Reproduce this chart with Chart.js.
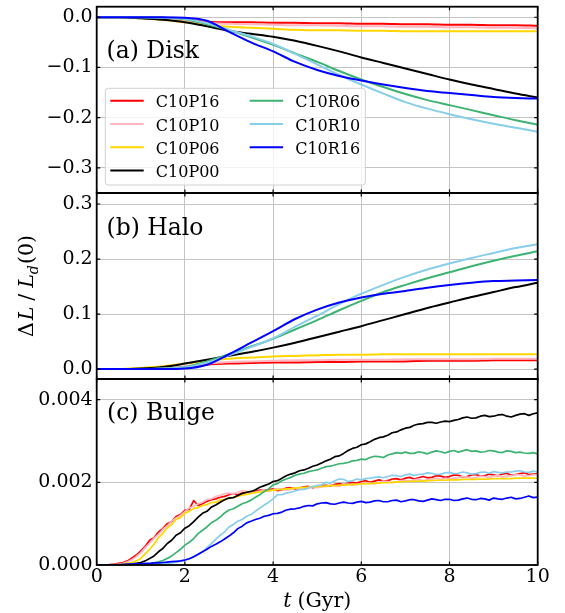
<!DOCTYPE html>
<html>
<head>
<meta charset="utf-8">
<script src="https://cdn.jsdelivr.net/npm/chart.js@4.4.1/dist/chart.umd.min.js"></script>
<style>
  html, body { margin: 0; padding: 0; background: #ffffff; }
  #wrap { position: relative; width: 565px; height: 613px; }
  #wrap canvas { position: absolute; left: 0; top: 0; }
</style>
</head>
<body>
<div id="wrap">
  <canvas id="disk" width="565" height="613"></canvas>
  <canvas id="halo" width="565" height="613"></canvas>
  <canvas id="bulge" width="565" height="613"></canvas>
</div>
<script>
// ---- run names ----
const runNames = ['C10P16', 'C10P10', 'C10P06', 'C10P00', 'C10R06', 'C10R10', 'C10R16'];

// ---- time samples (Gyr) ----
const tSmooth = [0, 0.5, 1, 1.5, 2, 2.5, 3, 3.5, 4, 4.5, 5, 5.5, 6, 6.5, 7, 7.5, 8, 8.5, 9, 9.5, 10];
const tBulge = [
  0, 0.1, 0.2, 0.3, 0.4, 0.5, 0.6, 0.7, 0.8, 0.9,
  1, 1.1, 1.2, 1.3, 1.4, 1.5, 1.6, 1.7, 1.8, 1.9,
  2, 2.1, 2.2, 2.3, 2.4, 2.5, 2.6, 2.7, 2.8, 2.9,
  3, 3.1, 3.2, 3.3, 3.4, 3.5, 3.6, 3.7, 3.8, 3.9,
  4, 4.1, 4.2, 4.3, 4.4, 4.5, 4.6, 4.7, 4.8, 4.9,
  5, 5.1, 5.2, 5.3, 5.4, 5.5, 5.6, 5.7, 5.8, 5.9,
  6, 6.1, 6.2, 6.3, 6.4, 6.5, 6.6, 6.7, 6.8, 6.9,
  7, 7.1, 7.2, 7.3, 7.4, 7.5, 7.6, 7.7, 7.8, 7.9,
  8, 8.1, 8.2, 8.3, 8.4, 8.5, 8.6, 8.7, 8.8, 8.9,
  9, 9.1, 9.2, 9.3, 9.4, 9.5, 9.6, 9.7, 9.8, 9.9,
  10];

// ---- (a) disk: Delta L / L_d(0) ----
const diskP16 = [0, 0, 0, -0.001, -0.005, -0.009, -0.010, -0.010, -0.011, -0.011, -0.012, -0.012, -0.013, -0.013, -0.014, -0.014, -0.015, -0.015, -0.016, -0.016, -0.017];
const diskP10 = [0, 0, 0, -0.001, -0.006, -0.011, -0.013, -0.014, -0.015, -0.016, -0.016, -0.017, -0.018, -0.018, -0.019, -0.019, -0.020, -0.020, -0.021, -0.021, -0.022];
const diskP06 = [0, 0, -0.002, -0.005, -0.010, -0.015, -0.019, -0.021, -0.023, -0.025, -0.026, -0.026, -0.027, -0.027, -0.028, -0.028, -0.028, -0.028, -0.028, -0.028, -0.028];
const diskP00 = [0, 0, -0.002, -0.005, -0.010, -0.018, -0.027, -0.033, -0.039, -0.047, -0.057, -0.068, -0.080, -0.091, -0.102, -0.113, -0.124, -0.134, -0.143, -0.152, -0.160];
const diskR06 = [0, 0, 0, -0.001, -0.004, -0.014, -0.026, -0.040, -0.055, -0.072, -0.089, -0.107, -0.124, -0.139, -0.153, -0.165, -0.175, -0.185, -0.195, -0.205, -0.214];
const diskR10 = [0, 0, 0, -0.001, -0.003, -0.012, -0.025, -0.038, -0.053, -0.073, -0.094, -0.115, -0.134, -0.152, -0.169, -0.182, -0.193, -0.203, -0.212, -0.220, -0.228];
const diskR16 = [0, 0, 0, 0, -0.001, -0.007, -0.029, -0.050, -0.068, -0.089, -0.105, -0.117, -0.126, -0.134, -0.141, -0.147, -0.151, -0.155, -0.159, -0.161, -0.162];

// ---- (b) halo ----
const haloP16 = [0, 0, 0, 0.001, 0.004, 0.008, 0.010, 0.011, 0.012, 0.012, 0.013, 0.013, 0.014, 0.014, 0.014, 0.015, 0.015, 0.015, 0.016, 0.016, 0.016];
const haloP10 = [0, 0, 0, 0.001, 0.005, 0.010, 0.013, 0.014, 0.015, 0.016, 0.016, 0.017, 0.017, 0.017, 0.018, 0.018, 0.018, 0.018, 0.019, 0.019, 0.019];
const haloP06 = [0, 0, 0.002, 0.005, 0.010, 0.015, 0.019, 0.021, 0.023, 0.024, 0.025, 0.026, 0.026, 0.027, 0.027, 0.027, 0.027, 0.027, 0.027, 0.027, 0.027];
const haloP00 = [0, 0, 0.001, 0.004, 0.010, 0.017, 0.024, 0.031, 0.039, 0.048, 0.058, 0.068, 0.078, 0.089, 0.100, 0.111, 0.121, 0.131, 0.140, 0.149, 0.157];
const haloR06 = [0, 0, 0, 0.001, 0.004, 0.014, 0.027, 0.041, 0.055, 0.072, 0.089, 0.107, 0.124, 0.140, 0.153, 0.165, 0.176, 0.187, 0.197, 0.206, 0.214];
const haloR10 = [0, 0, 0, 0.001, 0.003, 0.012, 0.025, 0.040, 0.056, 0.077, 0.097, 0.118, 0.137, 0.153, 0.168, 0.181, 0.192, 0.202, 0.211, 0.220, 0.227];
const haloR16 = [0, 0, 0, 0, 0.001, 0.008, 0.027, 0.048, 0.069, 0.091, 0.108, 0.121, 0.130, 0.137, 0.142, 0.148, 0.153, 0.157, 0.160, 0.161, 0.162];

// ---- (c) bulge, in units of 1e-3 (one row per Gyr) ----
const bulgeP16 = [
  0, 0, 0, 0.01, 0.02, 0.04, 0.06, 0.10, 0.17, 0.24,
  0.34, 0.45, 0.60, 0.66, 0.80, 0.88, 1.00, 1.05, 1.17, 1.22,
  1.32, 1.35, 1.56, 1.44, 1.48, 1.54, 1.58, 1.60, 1.64, 1.66,
  1.70, 1.73, 1.70, 1.74, 1.76, 1.74, 1.78, 1.81, 1.80, 1.82,
  1.84, 1.80, 1.82, 1.86, 1.87, 1.84, 1.86, 1.89, 1.90, 1.87,
  1.89, 1.92, 1.93, 1.91, 1.95, 1.97, 1.94, 1.98, 2.00, 1.98,
  2.02, 2.04, 2.00, 2.03, 2.06, 2.03, 2.04, 2.08, 2.09, 2.06,
  2.10, 2.12, 2.08, 2.11, 2.14, 2.11, 2.12, 2.16, 2.15, 2.12,
  2.14, 2.18, 2.17, 2.13, 2.14, 2.18, 2.19, 2.15, 2.16, 2.20,
  2.18, 2.16, 2.20, 2.22, 2.17, 2.19, 2.21, 2.23, 2.19, 2.20,
  2.21];
const bulgeP10 = [
  0, 0, 0, 0, 0.01, 0.02, 0.04, 0.08, 0.13, 0.21,
  0.30, 0.42, 0.53, 0.65, 0.74, 0.86, 0.95, 1.06, 1.14, 1.20,
  1.29, 1.38, 1.42, 1.48, 1.52, 1.58, 1.60, 1.66, 1.68, 1.73,
  1.74, 1.72, 1.76, 1.80, 1.78, 1.75, 1.76, 1.79, 1.80, 1.78,
  1.82, 1.85, 1.84, 1.81, 1.83, 1.86, 1.86, 1.84, 1.88, 1.90,
  1.87, 1.89, 1.90, 1.93, 1.92, 1.90, 1.95, 1.96, 1.93, 1.95,
  1.97, 1.99, 1.98, 1.96, 2.00, 2.03, 2.02, 1.99, 2.01, 2.04,
  2.05, 2.03, 2.06, 2.08, 2.04, 2.06, 2.08, 2.10, 2.07, 2.10,
  2.08, 2.10, 2.11, 2.14, 2.13, 2.10, 2.12, 2.15, 2.14, 2.12,
  2.15, 2.17, 2.13, 2.15, 2.16, 2.19, 2.18, 2.15, 2.16, 2.19,
  2.18];
const bulgeP06 = [
  0, 0, 0, 0, 0, 0.01, 0.02, 0.04, 0.06, 0.10,
  0.16, 0.27, 0.38, 0.50, 0.66, 0.76, 0.90, 0.98, 1.10, 1.15,
  1.25, 1.30, 1.37, 1.39, 1.44, 1.46, 1.51, 1.52, 1.57, 1.58,
  1.62, 1.64, 1.66, 1.69, 1.71, 1.73, 1.75, 1.77, 1.78, 1.80,
  1.81, 1.82, 1.83, 1.84, 1.85, 1.86, 1.87, 1.88, 1.88, 1.89,
  1.90, 1.90, 1.91, 1.92, 1.92, 1.93, 1.94, 1.94, 1.95, 1.95,
  1.96, 1.97, 1.97, 1.98, 1.98, 1.99, 1.99, 2.00, 2.01, 2.01,
  2.02, 2.02, 2.03, 2.03, 2.03, 2.04, 2.04, 2.05, 2.05, 2.05,
  2.06, 2.06, 2.06, 2.07, 2.07, 2.07, 2.07, 2.08, 2.08, 2.08,
  2.09, 2.09, 2.09, 2.09, 2.09, 2.10, 2.10, 2.10, 2.10, 2.10,
  2.10];
const bulgeP00 = [
  0, 0, 0, 0, 0, 0, 0.01, 0.01, 0.02, 0.04,
  0.06, 0.10, 0.16, 0.22, 0.32, 0.40, 0.52, 0.60, 0.72, 0.78,
  0.89, 0.95, 1.05, 1.16, 1.25, 1.30, 1.40, 1.45, 1.52, 1.58,
  1.62, 1.63, 1.68, 1.73, 1.76, 1.78, 1.82, 1.88, 1.92, 1.96,
  2.02, 2.04, 2.10, 2.16, 2.20, 2.23, 2.28, 2.30, 2.34, 2.39,
  2.42, 2.47, 2.52, 2.56, 2.62, 2.64, 2.70, 2.77, 2.82, 2.85,
  2.91, 2.93, 2.98, 3.04, 3.08, 3.10, 3.14, 3.20, 3.22, 3.27,
  3.31, 3.33, 3.38, 3.41, 3.42, 3.45, 3.45, 3.43, 3.46, 3.48,
  3.47, 3.50, 3.52, 3.56, 3.58, 3.55, 3.56, 3.60, 3.62, 3.59,
  3.60, 3.63, 3.64, 3.60, 3.58, 3.62, 3.65, 3.66, 3.62, 3.66,
  3.68];
const bulgeR06 = [
  0, 0, 0, 0, 0, 0, 0, 0.01, 0.01, 0.01,
  0.01, 0.02, 0.02, 0.05, 0.08, 0.11, 0.16, 0.22, 0.30, 0.38,
  0.48, 0.55, 0.64, 0.76, 0.84, 0.92, 1.02, 1.08, 1.16, 1.26,
  1.33, 1.36, 1.42, 1.48, 1.52, 1.57, 1.64, 1.70, 1.78, 1.84,
  1.94, 1.97, 2.04, 2.08, 2.12, 2.17, 2.20, 2.22, 2.26, 2.28,
  2.30, 2.34, 2.38, 2.39, 2.42, 2.45, 2.46, 2.48, 2.52, 2.53,
  2.56, 2.55, 2.60, 2.63, 2.62, 2.60, 2.66, 2.69, 2.72, 2.70,
  2.73, 2.70, 2.70, 2.74, 2.72, 2.69, 2.73, 2.76, 2.74, 2.71,
  2.75, 2.77, 2.73, 2.76, 2.79, 2.75, 2.76, 2.73, 2.74, 2.77,
  2.76, 2.73, 2.72, 2.76, 2.75, 2.72, 2.73, 2.71, 2.70, 2.72,
  2.69];
const bulgeR10 = [
  0, 0, 0, 0, 0, 0, 0, 0, 0, 0.01,
  0.01, 0.01, 0.02, 0.02, 0.03, 0.03, 0.04, 0.05, 0.07, 0.09,
  0.12, 0.15, 0.20, 0.25, 0.32, 0.42, 0.52, 0.62, 0.72, 0.80,
  0.92, 0.98, 1.06, 1.10, 1.18, 1.22, 1.30, 1.38, 1.45, 1.52,
  1.60, 1.70, 1.70, 1.74, 1.76, 1.79, 1.82, 1.83, 1.86, 1.90,
  1.92, 1.94, 2.00, 1.98, 2.04, 2.08, 2.07, 2.02, 2.04, 2.08,
  2.06, 2.09, 2.10, 2.12, 2.13, 2.11, 2.14, 2.17, 2.16, 2.14,
  2.18, 2.20, 2.17, 2.19, 2.20, 2.23, 2.22, 2.19, 2.20, 2.23,
  2.24, 2.21, 2.22, 2.25, 2.23, 2.20, 2.21, 2.24, 2.25, 2.22,
  2.26, 2.24, 2.23, 2.25, 2.25, 2.27, 2.28, 2.25, 2.24, 2.27,
  2.25];
const bulgeR16 = [
  0, 0, 0, 0, 0, 0.01, 0.01, 0.02, 0.02, 0.03,
  0.03, 0.04, 0.04, 0.05, 0.05, 0.06, 0.07, 0.08, 0.09, 0.10,
  0.12, 0.15, 0.20, 0.26, 0.32, 0.38, 0.45, 0.50, 0.56, 0.63,
  0.70, 0.78, 0.88, 0.94, 1.02, 1.06, 1.10, 1.13, 1.18, 1.20,
  1.24, 1.25, 1.28, 1.33, 1.35, 1.36, 1.38, 1.42, 1.44, 1.43,
  1.48, 1.50, 1.51, 1.48, 1.47, 1.50, 1.52, 1.50, 1.49, 1.52,
  1.54, 1.51, 1.52, 1.55, 1.56, 1.53, 1.53, 1.56, 1.57, 1.53,
  1.55, 1.58, 1.58, 1.55, 1.54, 1.57, 1.60, 1.58, 1.56, 1.59,
  1.59, 1.56, 1.57, 1.60, 1.62, 1.59, 1.58, 1.61, 1.60, 1.57,
  1.62, 1.60, 1.59, 1.62, 1.64, 1.60, 1.61, 1.64, 1.67, 1.63,
  1.64];

// ---- tick values and labels ----
const xTickValues = [0, 2, 4, 6, 8, 10];
const xTickLabels = ['0', '2', '4', '6', '8', '10'];
const diskTickValues = [-0.3, -0.2, -0.1, 0];
const diskTickLabels = ['\u22120.3', '\u22120.2', '\u22120.1', '0.0'];
const haloTickValues = [0, 0.1, 0.2, 0.3];
const haloTickLabels = ['0.0', '0.1', '0.2', '0.3'];
const bulgeTickValues = [0, 0.002, 0.004];
const bulgeTickLabels = ['0.000', '0.002', '0.004'];

// ---- styling ----
const lineColors = ['#ff0000', '#ffb6c1', '#ffd700', '#000000', '#3cb371', '#87ceeb', '#0000ff'];
const SERIF = "'DejaVu Serif', serif";
const PAGE_W = 565, PAGE_H = 613;
const PLOT_LEFT = 96.7, PLOT_RIGHT = 537.7;
const GRID_COLOR = '#c4c4c4';

Chart.defaults.font.family = SERIF;
Chart.defaults.color = '#000000';

function makeDatasets(times, seriesList, smooth, scale) {
  return seriesList.map((vals, i) => ({
    label: runNames[i],
    data: times.map((t, k) => ({ x: t, y: vals[k] * scale })),
    borderColor: lineColors[i],
    backgroundColor: lineColors[i],
    borderWidth: smooth ? 2 : 1.7,
    pointRadius: 0,
    fill: false,
    tension: 0,
    cubicInterpolationMode: smooth ? 'monotone' : 'default',
    borderJoinStyle: 'round',
    order: seriesList.length - i
  }));
}

// frame around the plotting area with inward tick marks on all four sides
const framePlugin = {
  id: 'frame',
  afterDatasetsDraw(chart) {
    const { ctx, chartArea: a, scales } = chart;
    ctx.save();
    ctx.strokeStyle = '#000';
    ctx.lineWidth = 1.2;
    ctx.beginPath();
    scales.x.ticks.forEach(t => {
      const px = scales.x.getPixelForValue(t.value);
      ctx.moveTo(px, a.top); ctx.lineTo(px, a.top + 3.5);
      ctx.moveTo(px, a.bottom); ctx.lineTo(px, a.bottom - 3.5);
    });
    scales.y.ticks.forEach(t => {
      const py = scales.y.getPixelForValue(t.value);
      ctx.moveTo(a.left, py); ctx.lineTo(a.left + 3.5, py);
      ctx.moveTo(a.right, py); ctx.lineTo(a.right - 3.5, py);
    });
    ctx.stroke();
    ctx.lineWidth = 1.8;
    ctx.strokeRect(a.left, a.top, a.right - a.left, a.bottom - a.top);
    ctx.restore();
  }
};

// panel caption such as "(a) Disk"
const captionPlugin = {
  id: 'caption',
  afterDraw(chart, args, o) {
    if (!o.text) return;
    const ctx = chart.ctx;
    ctx.save();
    ctx.font = '23.5px ' + SERIF;
    ctx.fillStyle = '#000';
    ctx.textBaseline = 'alphabetic';
    ctx.textAlign = 'left';
    ctx.fillText(o.text, o.x, o.y);
    ctx.restore();
  }
};

// two-column key inside the disk panel
const keyPlugin = {
  id: 'runKey',
  afterDraw(chart, args, o) {
    if (!o.show) return;
    const ctx = chart.ctx;
    ctx.save();
    const x = 105.3, y = 88.3, w = 260, h = 96.7, r = 3;
    ctx.beginPath();
    ctx.moveTo(x + r, y);
    ctx.arcTo(x + w, y, x + w, y + h, r);
    ctx.arcTo(x + w, y + h, x, y + h, r);
    ctx.arcTo(x, y + h, x, y, r);
    ctx.arcTo(x, y, x + w, y, r);
    ctx.closePath();
    ctx.fillStyle = 'rgba(255,255,255,0.8)';
    ctx.fill();
    ctx.strokeStyle = '#d0d0d0';
    ctx.lineWidth = 1;
    ctx.stroke();
    ctx.font = '16px ' + SERIF;
    ctx.textBaseline = 'alphabetic';
    ctx.textAlign = 'left';
    const colX = [110.3, 249.7];
    runNames.forEach((name, i) => {
      const col = i < 4 ? 0 : 1;
      const row = i < 4 ? i : i - 4;
      const hx = colX[col];
      const ry = 100.7 + row * 23.3;
      ctx.strokeStyle = lineColors[i];
      ctx.lineWidth = 2;
      ctx.beginPath();
      ctx.moveTo(hx, ry);
      ctx.lineTo(hx + 33.4, ry);
      ctx.stroke();
      ctx.fillStyle = '#000';
      ctx.fillText(name, hx + 45.5, ry + 6.6);
    });
    ctx.restore();
  }
};

// shared vertical axis title: Delta L / L_d(0)
const yTitlePlugin = {
  id: 'yTitle',
  afterDraw(chart, args, o) {
    if (!o.show) return;
    const ctx = chart.ctx;
    const s = 20.5;
    const up = s + 'px ' + SERIF;
    const it = 'italic ' + s + 'px ' + SERIF;
    const sub = 'italic ' + (s * 0.7).toFixed(1) + 'px ' + SERIF;
    const parts = [
      { t: '\u0394', f: up, dy: 0, gap: 2 },
      { t: 'L', f: it, dy: 0, gap: 6 },
      { t: '/', f: up, dy: 0, gap: 6 },
      { t: 'L', f: it, dy: 0, gap: 0 },
      { t: 'd', f: sub, dy: 0.24 * s, gap: 1 },
      { t: '(0)', f: up, dy: 0, gap: 0 }
    ];
    ctx.save();
    let total = 0;
    parts.forEach(p => { ctx.font = p.f; p.w = ctx.measureText(p.t).width; total += p.w + p.gap; });
    ctx.translate(33.3, 286);
    ctx.rotate(-Math.PI / 2);
    ctx.fillStyle = '#000';
    ctx.textBaseline = 'alphabetic';
    ctx.textAlign = 'left';
    let cx = -total / 2;
    parts.forEach(p => { ctx.font = p.f; ctx.fillText(p.t, cx, p.dy); cx += p.w + p.gap; });
    ctx.restore();
  }
};

// horizontal axis title: t (Gyr)
const xTitlePlugin = {
  id: 'xTitle',
  afterDraw(chart, args, o) {
    if (!o.show) return;
    const ctx = chart.ctx;
    const s = 20.5;
    ctx.save();
    ctx.fillStyle = '#000';
    ctx.textBaseline = 'alphabetic';
    ctx.textAlign = 'left';
    ctx.font = 'italic ' + s + 'px ' + SERIF;
    const w1 = ctx.measureText('t').width;
    ctx.font = s + 'px ' + SERIF;
    const w2 = ctx.measureText('(Gyr)').width;
    const gap = 6;
    const cx = (PLOT_LEFT + PLOT_RIGHT) / 2;
    const x0 = cx - (w1 + gap + w2) / 2;
    ctx.font = 'italic ' + s + 'px ' + SERIF;
    ctx.fillText('t', x0, 607);
    ctx.font = s + 'px ' + SERIF;
    ctx.fillText('(Gyr)', x0 + w1 + gap, 607);
    ctx.restore();
  }
};

function makePanel(id, cfg) {
  return new Chart(document.getElementById(id), {
    type: 'line',
    data: { datasets: cfg.datasets },
    options: {
      responsive: false,
      animation: false,
      events: [],
      layout: {
        padding: {
          left: 0,
          right: PAGE_W - PLOT_RIGHT,
          top: cfg.top,
          bottom: cfg.showX ? 0 : PAGE_H - cfg.bottom
        }
      },
      plugins: {
        legend: { display: false },
        tooltip: { enabled: false },
        caption: cfg.caption,
        runKey: { show: !!cfg.key },
        yTitle: { show: !!cfg.yTitle },
        xTitle: { show: !!cfg.showX }
      },
      scales: {
        x: {
          type: 'linear',
          min: 0,
          max: 10,
          afterBuildTicks: s => { s.ticks = xTickValues.map(v => ({ value: v })); },
          afterFit: s => {
            s.height = cfg.showX ? PAGE_H - cfg.bottom : 0;
            s.paddingLeft = 0; s.paddingRight = 0;
          },
          ticks: {
            display: !!cfg.showX,
            autoSkip: false,
            maxRotation: 0,
            padding: 1,
            font: { size: 19, family: SERIF },
            color: '#000',
            callback: (v, i) => xTickLabels[i]
          },
          grid: { color: GRID_COLOR, lineWidth: 1, drawTicks: false },
          border: { display: false }
        },
        y: {
          type: 'linear',
          min: cfg.yMin,
          max: cfg.yMax,
          afterBuildTicks: s => { s.ticks = cfg.yTicks.map(v => ({ value: v })); },
          afterFit: s => {
            s.width = PLOT_LEFT;
            s.paddingTop = 0; s.paddingBottom = 0;
          },
          ticks: {
            autoSkip: false,
            padding: 4,
            font: { size: 19, family: SERIF },
            color: '#000',
            callback: (v, i) => cfg.yLabels[i]
          },
          grid: { color: GRID_COLOR, lineWidth: 1, drawTicks: false },
          border: { display: false }
        }
      }
    },
    plugins: [framePlugin, captionPlugin, keyPlugin, yTitlePlugin, xTitlePlugin]
  });
}

makePanel('disk', {
  datasets: makeDatasets(tSmooth, [diskP16, diskP10, diskP06, diskP00, diskR06, diskR10, diskR16], true, 1),
  top: 6.7, bottom: 193,
  yMin: -0.35, yMax: 0.021,
  yTicks: diskTickValues, yLabels: diskTickLabels,
  caption: { text: '(a) Disk', x: 106.5, y: 58.3 },
  key: true
});

makePanel('halo', {
  datasets: makeDatasets(tSmooth, [haloP16, haloP10, haloP06, haloP00, haloR06, haloR10, haloR16], true, 1),
  top: 193, bottom: 379,
  yMin: -0.018, yMax: 0.32,
  yTicks: haloTickValues, yLabels: haloTickLabels,
  caption: { text: '(b) Halo', x: 106.5, y: 235 },
  yTitle: true
});

makePanel('bulge', {
  datasets: makeDatasets(tBulge, [bulgeP16, bulgeP10, bulgeP06, bulgeP00, bulgeR06, bulgeR10, bulgeR16], false, 1e-3),
  top: 379, bottom: 565,
  yMin: 0, yMax: 0.0045,
  yTicks: bulgeTickValues, yLabels: bulgeTickLabels,
  caption: { text: '(c) Bulge', x: 107, y: 420 },
  showX: true
});
</script>
</body>
</html>
